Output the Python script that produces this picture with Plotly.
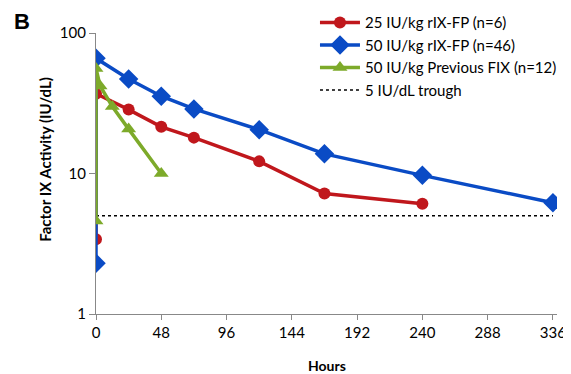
import plotly.graph_objects as go

# Data
red_name = "25 IU/kg rIX-FP (n=6)"
red_x = [0, 0, 24, 48, 72, 120, 168, 240]
red_y = [3.4, 37, 28.5, 21.5, 18, 12.2, 7.2, 6.1]

blue_name = "50 IU/kg rIX-FP (n=46)"
blue_x = [0, 0, 24, 48, 72, 120, 168, 240, 336]
blue_y = [2.3, 66, 47, 35.5, 28.8, 20.5, 13.8, 9.7, 6.2]

green_name = "50 IU/kg Previous FIX (n=12)"
green_x = [0, 0, 3, 12, 24, 48]
green_y = [4.6, 56, 42, 30, 20.7, 10]

trough_name = "5 IU/dL trough"
trough_x = [0, 336]
trough_y = [5, 5]

x_ticks = [0, 48, 96, 144, 192, 240, 288, 336]
y_ticks = [1, 10, 100]

RED = "#C0171C"
BLUE = "#0A4BC5"
GREEN = "#7DAA2A"

fig = go.Figure()
fig.add_trace(go.Scatter(x=trough_x, y=trough_y, mode="lines", name=trough_name,
                         line=dict(color="black", width=1.5, dash="3px,3px"), legendrank=4))
fig.add_trace(go.Scatter(x=red_x, y=red_y, mode="lines+markers", name=red_name,
                         line=dict(color=RED, width=3.5),
                         marker=dict(symbol="circle", size=12, color=RED), legendrank=1))
fig.add_trace(go.Scatter(x=blue_x, y=blue_y, mode="lines+markers", name=blue_name,
                         line=dict(color=BLUE, width=3.5),
                         marker=dict(symbol="diamond", size=15, color=BLUE), legendrank=2))
fig.add_trace(go.Scatter(x=green_x, y=green_y, mode="lines+markers", name=green_name,
                         line=dict(color=GREEN, width=3.5),
                         marker=dict(symbol="triangle-up", size=13, color=GREEN), legendrank=3))

FONT = "Lato, Open Sans, sans-serif"
fig.update_layout(
    width=563, height=366,
    margin=dict(l=88, r=14, t=25, b=60, autoexpand=False),
    plot_bgcolor="white", paper_bgcolor="white",
    font=dict(family=FONT, size=14, color="black"),
    showlegend=True,
    legend=dict(x=0.475, y=1.095, xanchor="left", yanchor="top",
                font=dict(family=FONT, size=15, color="black"),
                bgcolor="rgba(0,0,0,0)", tracegroupgap=0, itemwidth=40),
    xaxis=dict(range=[0, 339], tickvals=x_ticks, ticktext=[str(v) for v in x_ticks],
               showgrid=False, zeroline=False, showline=True, linecolor="#888888",
               linewidth=1.2, ticks="outside", ticklen=5, tickcolor="#888888",
               tickfont=dict(family=FONT, size=15)),
    yaxis=dict(type="log", range=[0, 2], tickvals=y_ticks, ticktext=[str(v) for v in y_ticks],
               showgrid=False, zeroline=False, showline=True, linecolor="#888888",
               linewidth=1.2, ticks="outside", ticklen=6, tickcolor="#888888",
               tickfont=dict(family=FONT, size=15)),
    annotations=[
        dict(text="<b>B</b>", xref="paper", yref="paper", x=-0.182, y=1.04,
             xanchor="left", yanchor="middle", showarrow=False,
             font=dict(family="Liberation Sans, Arial", size=22, color="black")),
        dict(text="<b>Factor IX Activity (IU/dL)</b>", xref="paper", yref="paper",
             x=-0.11, y=0.55, xanchor="center", yanchor="middle", textangle=-90,
             showarrow=False, font=dict(family=FONT, size=15, color="black")),
        dict(text="<b>Hours</b>", xref="paper", yref="paper", x=0.5, y=-0.185,
             xanchor="center", yanchor="middle", showarrow=False,
             font=dict(family=FONT, size=14, color="black")),
    ],
)

fig.write_html("out.html")
